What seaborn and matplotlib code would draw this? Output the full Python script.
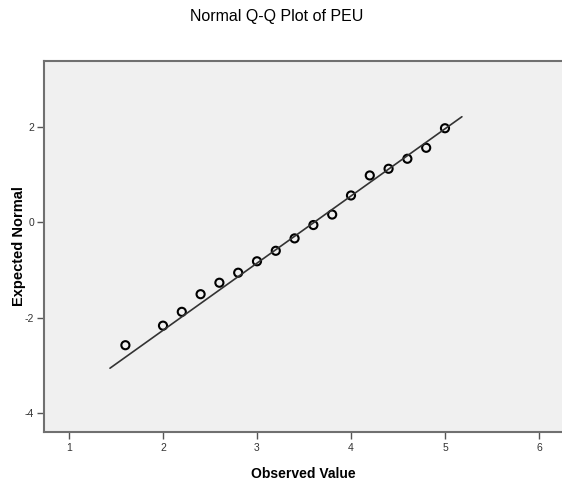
import matplotlib
matplotlib.use("Agg")
import matplotlib.pyplot as plt
import seaborn as sns
import numpy as np
import pandas as pd

observado = [1.6, 2.0, 2.2, 2.4, 2.6, 2.8, 3.0, 3.2, 3.4, 3.6, 3.8, 4.0, 4.2, 4.4, 4.6, 4.8, 5.0]
esperado = [-2.58, -2.17, -1.88, -1.51, -1.27, -1.06, -0.82, -0.60, -0.34, -0.06, 0.16, 0.56,
            0.98, 1.12, 1.33, 1.56, 1.97]

# Recta de referencia normal
media = 3.61
desviacion = 0.71
recta_x = [1.436, 5.18]

x_ticks = [1, 2, 3, 4, 5, 6]
y_ticks = [-4, -2, 0, 2]

puntos = pd.DataFrame({"observado": observado, "esperado": esperado})
recta = pd.DataFrame({"x": recta_x})
recta["y"] = (recta["x"] - media) / desviacion

sns.set_style("white")
plt.rcParams["font.family"] = ["Liberation Sans", "DejaVu Sans"]
plt.rcParams["axes.unicode_minus"] = False

fig = plt.figure(figsize=(5.62, 4.84), dpi=100)
ax = fig.add_axes([44 / 562, 1 - 432 / 484, 518 / 562, 371 / 484])
ax.set_facecolor("#f0f0f0")

sns.lineplot(data=recta, x="x", y="y", color="#333333", linewidth=1.2, ax=ax)
sns.scatterplot(data=puntos, x="observado", y="esperado", marker="o", s=34,
                facecolor="none", edgecolor="black", linewidth=1.5, ax=ax)

ax.set_xlim(0.734, 6.245)
ax.set_ylim(-4.40, 3.38)
ax.set_xticks(x_ticks)
ax.set_yticks(y_ticks)
ax.tick_params(axis="both", direction="out", length=5, width=1, color="#555555",
               labelsize=7.5, labelcolor="#333333", pad=2, bottom=True, left=True)
ax.tick_params(axis="x", pad=3)

for lado in ["top", "left", "bottom"]:
    ax.spines[lado].set_color("#707070")
    ax.spines[lado].set_linewidth(1.5)
ax.spines["right"].set_visible(False)

ax.set_xlabel("Observed Value", fontsize=10, fontweight="bold", labelpad=10, color="black")
ax.set_ylabel("Expected Normal", fontsize=10.5, fontweight="bold", labelpad=-1, color="black")

fig.text(0.493, 0.965, "Normal Q-Q Plot of PEU", ha="center", va="center",
         fontsize=11.5, color="black")

fig.savefig("out.png", dpi=100)
